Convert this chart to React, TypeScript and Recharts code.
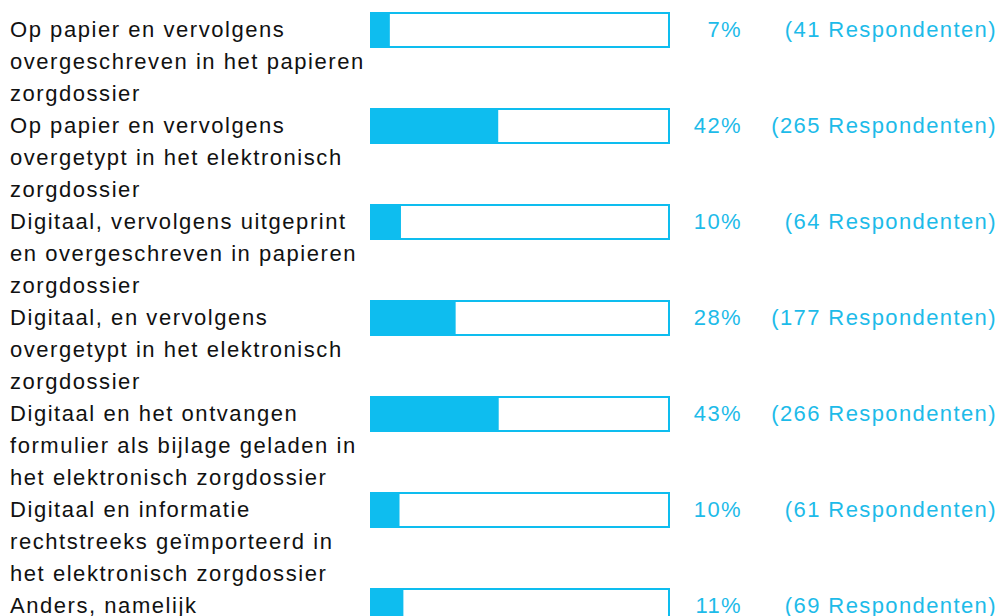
import { Bar, BarChart, LabelList, XAxis, YAxis } from 'recharts';

const categories = [
  ['Op papier en vervolgens', 'overgeschreven in het papieren', 'zorgdossier'],
  ['Op papier en vervolgens', 'overgetypt in het elektronisch', 'zorgdossier'],
  ['Digitaal, vervolgens uitgeprint', 'en overgeschreven in papieren', 'zorgdossier'],
  ['Digitaal, en vervolgens', 'overgetypt in het elektronisch', 'zorgdossier'],
  ['Digitaal en het ontvangen', 'formulier als bijlage geladen in', 'het elektronisch zorgdossier'],
  ['Digitaal en informatie', 'rechtstreeks geïmporteerd in', 'het elektronisch zorgdossier'],
  ['Anders, namelijk'],
];
const percentages = [7, 42, 10, 28, 43, 10, 11];
const respondents = [41, 265, 64, 177, 266, 61, 69];
const totalRespondents = 620;

const CYAN = '#0ebdef';
const TEXT_CYAN = '#1dbbe9';
const FONT = '"Liberation Sans", Arial, sans-serif';

const data = categories.map((lines, i) => ({
  key: `c${i}`,
  lines,
  pct: percentages[i],
  resp: respondents[i],
}));

function CategoryTick(props: any) {
  const row = data.find((d) => d.key === props.payload.value);
  if (!row) return null;
  return (
    <text
      x={10}
      y={props.y + 6.5}
      fill="#111"
      fontSize={22}
      fontFamily={FONT}
      style={{ letterSpacing: '1.55px' }}
    >
      {row.lines.map((l, i) => (
        <tspan key={i} x={10} dy={i === 0 ? 0 : 32}>
          {l}
        </tspan>
      ))}
    </text>
  );
}

function Track(props: any) {
  return (
    <rect
      x={props.x + 1}
      y={props.y + 1}
      width={props.width - 2}
      height={props.height - 2}
      fill="#fff"
      stroke={CYAN}
      strokeWidth={2}
    />
  );
}

function RowValues(props: any) {
  const vb = props.viewBox ?? props;
  const row = data[props.index];
  if (!row) return null;
  const cy = vb.y + vb.height / 2 + 7;
  return (
    <g fontSize={22} fontFamily={FONT} fill={TEXT_CYAN} style={{ letterSpacing: '1.4px' }}>
      <text x={742} y={cy} textAnchor="end">
        {row.pct}%
      </text>
      <text x={997} y={cy} textAnchor="end">
        ({row.resp} Respondenten)
      </text>
    </g>
  );
}

export default function App() {
  return (
    <div style={{ position: 'absolute', left: 0, top: -18, background: '#fff' }}>
      <BarChart
        width={1001}
        height={672}
        data={data}
        layout="vertical"
        margin={{ top: 0, right: 331, bottom: 0, left: 0 }}
        barCategoryGap={0}
      >
        <XAxis type="number" domain={[0, totalRespondents]} hide />
        <YAxis
          type="category"
          dataKey="key"
          width={370}
          axisLine={false}
          tickLine={false}
          interval={0}
          tick={<CategoryTick />}
        />
        <Bar
          dataKey="resp"
          fill={CYAN}
          barSize={36}
          background={<Track />}
          isAnimationActive={false}
        >
          <LabelList dataKey="resp" content={<RowValues />} />
        </Bar>
      </BarChart>
    </div>
  );
}
